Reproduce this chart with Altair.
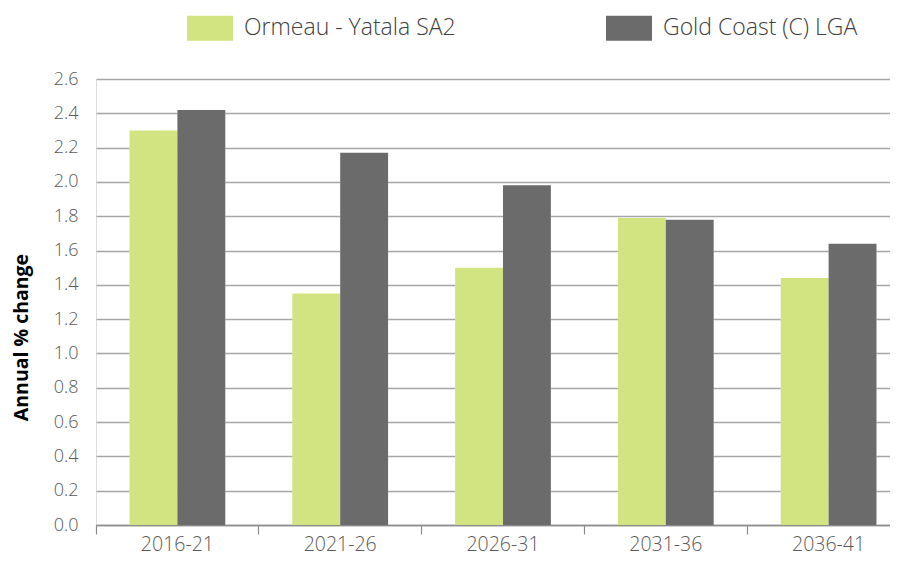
import altair as alt
import pandas as pd

periods = ["2016-21", "2021-26", "2026-31", "2031-36", "2036-41"]
series_names = ["Ormeau - Yatala SA2", "Gold Coast (C) LGA"]
ormeau = [2.30, 1.35, 1.50, 1.79, 1.44]
gold_coast = [2.42, 2.17, 1.98, 1.78, 1.64]
y_ticks = [0.0, 0.2, 0.4, 0.6, 0.8, 1.0, 1.2, 1.4, 1.6, 1.8, 2.0, 2.2, 2.4, 2.6]

rows = []
for p, a, b in zip(periods, ormeau, gold_coast):
    rows.append({"period": p, "series": series_names[0], "value": a})
    rows.append({"period": p, "series": series_names[1], "value": b})
df = pd.DataFrame(rows)

FONT = "Open Sans"

x_enc = alt.X(
    "period:N",
    sort=periods,
    title=None,
    scale=alt.Scale(paddingInner=0, paddingOuter=0, range=[0, 814]),
    axis=alt.Axis(
        bandPosition=0,
        labelFont=FONT,
        labelFontSize=19.5,
        labelFontWeight=300,
        labelColor="#595959",
        labelPadding=1,
        domainColor="#8a8a8a",
        domainWidth=1.5,
        tickColor="#8a8a8a",
        tickWidth=1.2,
        tickSize=9,
        grid=False,
        labelAngle=0,
    ),
)
y_enc = alt.Y(
    "value:Q",
    title="Annual % change",
    scale=alt.Scale(domain=[0, 2.6], nice=False),
    axis=alt.Axis(
        values=y_ticks,
        format=".1f",
        labelFont=FONT,
        labelFontSize=18,
        labelFontWeight=300,
        labelColor="#595959",
        labelPadding=18,
        ticks=False,
        domain=False,
        grid=True,
        gridColor="#a6a6a6",
        gridWidth=1.5,
        titleFont=FONT,
        titleFontSize=19.5,
        titleFontWeight="bold",
        titleColor="#000000",
        titlePadding=22,
        titleY=258,
    ),
)
xoff = alt.XOffset(
    "series:N",
    sort=series_names,
    scale=alt.Scale(paddingInner=0, paddingOuter=0.7),
)

under = alt.Chart(df).mark_bar(color="white").encode(
    x=x_enc, y=y_enc, xOffset=xoff
)
bars = alt.Chart(df).mark_bar().encode(
    x=x_enc,
    y=y_enc,
    xOffset=xoff,
    color=alt.Color(
        "series:N",
        sort=series_names,
        scale=alt.Scale(domain=series_names, range=["#b5d334", "#6b6b6c"]),
        legend=alt.Legend(
            title=None,
            orient="none",
            legendX=91,
            legendY=-74,
            direction="horizontal",
            columns=2,
            columnPadding=150,
            symbolType="M-1,-0.54H1V0.54H-1Z",
            symbolSize=2116,
            symbolStrokeWidth=0,
            labelFont=FONT,
            labelFontSize=23,
            labelFontWeight=300,
            labelColor="#404040",
            labelOffset=11,
            labelLimit=400,
        ),
    ),
    opacity=alt.Opacity(
        "series:N",
        sort=series_names,
        scale=alt.Scale(domain=series_names, range=[0.62, 1.0]),
        legend=None,
    ),
)

chart = (
    alt.layer(under, bars)
    .properties(
        width=794,
        height=446,
        autosize=alt.AutoSizeParams(type="none"),
        padding={"left": 88, "top": 71, "right": 0, "bottom": 30},
    )
    .configure_view(stroke=None)
    .configure(background="white")
)

chart.save("out.html", embed_options={"renderer": "svg", "actions": False})
